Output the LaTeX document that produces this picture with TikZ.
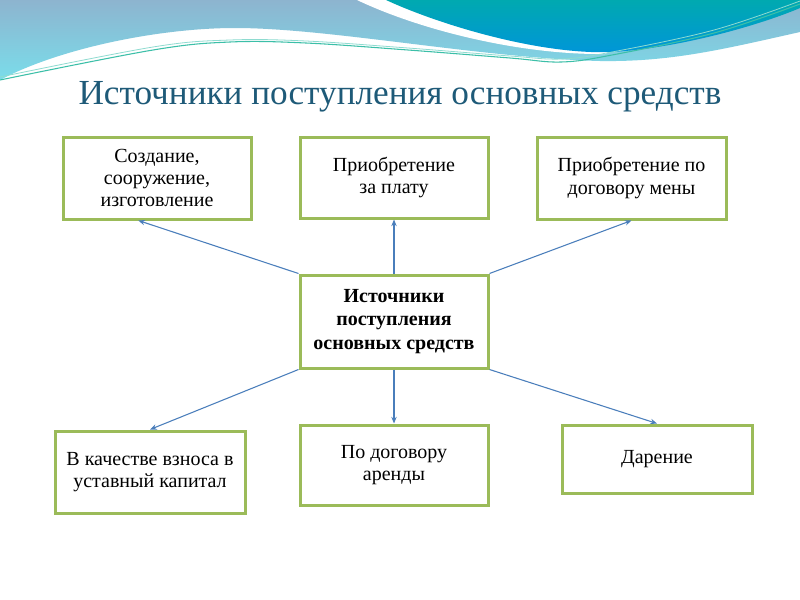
\documentclass[tikz,border=0pt]{standalone}
\usepackage{fontspec}
\setmainfont{Liberation Serif}
\usetikzlibrary{arrows.meta}
\definecolor{boxgreen}{HTML}{9BBB59}
\definecolor{linkblue}{HTML}{4A7EBB}
\definecolor{titleblue}{HTML}{1E5A78}
\definecolor{bandtop}{HTML}{8DB4CF}
\definecolor{bandbot}{HTML}{7ADDEA}
\definecolor{tealtop}{HTML}{00A9B0}
\definecolor{tealbot}{HTML}{0095DA}
\definecolor{wavea}{HTML}{3CBFA8}
\definecolor{waveb}{HTML}{8EDBD0}
\tikzset{
  bx/.style n args={2}{draw=boxgreen, line width=2.25pt, fill=white,
    minimum width=#1*0.75pt, minimum height=#2*0.75pt, inner sep=2pt,
    align=center, font=\fontsize{15}{16.8}\selectfont},
  link/.style={draw=linkblue, line width=0.8pt, -{Stealth[length=5pt,width=4pt]}}
}
\begin{document}
\begin{tikzpicture}[x=0.75pt,y=-0.75pt]
\useasboundingbox (0,0) rectangle (800,600);
\fill[white] (0,0) rectangle (800,600);
% light blue band
\shade[top color=bandtop, bottom color=bandbot]
  (0,0) -- (800,0) -- (800,32)
  .. controls (720,50) and (670,62) .. (600,61)
  .. controls (480,58) and (330,28) .. (235,28)
  .. controls (160,28) and (60,48) .. (0,80) -- cycle;
% white strip
\fill[white] (357,0) .. controls (420,30) and (520,55) .. (605,54) -- (700,0) -- cycle;
% teal blob
\shade[top color=tealtop, bottom color=tealbot]
  (386,0) .. controls (440,25) and (540,55) .. (612,52)
  .. controls (680,48) and (760,25) .. (800,8) -- (800,0) -- cycle;
% thin wave lines
\draw[wavea, line width=0.8pt] plot[smooth, tension=0.6] coordinates
  {(0,80) (153,50) (230,42) (306,43) (408,50) (510,58) (561,62) (612,55) (714,33) (800,4)};
\draw[waveb, line width=0.6pt] plot[smooth, tension=0.6] coordinates
  {(0,77) (153,47) (230,40) (306,41) (408,48) (510,56) (561,59) (612,52) (714,30) (800,1)};
% title
\node[text=titleblue, font=\fontsize{26.4}{30}\selectfont, anchor=base] (title) at (400,104)
  {Источники поступления основных средств};
% boxes
\node[bx={188}{82}] (b1) at (157,178) {Создание,\\сооружение,\\изготовление};
\node[bx={188}{81}] (b2) at (394,177.5) {Приобретение\\за плату};
\node[bx={189}{82}] (b3) at (631.5,178) {Приобретение по\\договору мены};
\node[bx={188}{93}, font=\fontsize{15}{17.5}\selectfont\bfseries] (c) at (394,321.5)
  {Источники\\поступления\\основных средств};
\node[bx={190}{82}] (b4) at (150,472) {В качестве взноса в\\уставный капитал};
\node[bx={188}{80}] (b5) at (394,465) {По договору\\аренды};
\node[bx={190}{68}] (b6) at (657,459) {Дарение};
% connectors
\draw[link] (c.north west) -- ([xshift=-14pt]b1.south);
\draw[link] (c.north) -- (b2.south);
\draw[link] (c.north east) -- (b3.south);
\draw[link] (c.south west) -- (b4.north);
\draw[link] (c.south) -- (b5.north);
\draw[link] (c.south east) -- (b6.north);
\end{tikzpicture}
\end{document}
